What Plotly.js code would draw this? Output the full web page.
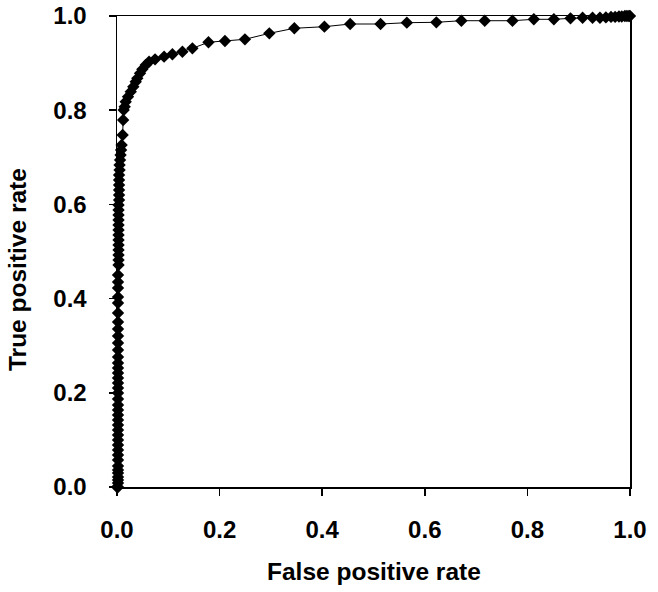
<!DOCTYPE html>
<html>
<head>
<meta charset="utf-8">
<script src="https://cdn.plot.ly/plotly-3.0.1.min.js"></script>
<style>html,body{margin:0;padding:0;background:#fff;}#chart{width:658px;height:592px;}</style>
</head>
<body>
<div id="chart"></div>
<script>
// False positive rate values (ROC curve)
const fpr = [
  0.000, 0.002, 0.002, 0.002, 0.002, 0.002, 0.002, 0.002, 0.002, 0.002,
  0.002, 0.002, 0.002, 0.002, 0.002, 0.002, 0.002, 0.002, 0.002, 0.002,
  0.002, 0.002, 0.002, 0.002, 0.002, 0.002, 0.002, 0.002, 0.002, 0.002,
  0.002, 0.002, 0.002, 0.002, 0.002, 0.002, 0.002, 0.002, 0.002, 0.002,
  0.003, 0.003, 0.003, 0.003, 0.003, 0.003, 0.003, 0.003, 0.003, 0.003,
  0.003, 0.003, 0.003, 0.004, 0.004, 0.004, 0.004, 0.004, 0.004, 0.005,
  0.005, 0.006, 0.007, 0.008, 0.009, 0.011, 0.012, 0.013,
  0.015, 0.017, 0.0215, 0.0268, 0.0318, 0.0365, 0.0396, 0.0449, 0.0494, 0.056,
  0.0625, 0.0742, 0.0918, 0.108, 0.1275, 0.147, 0.1783, 0.2104, 0.2494, 0.2969,
  0.3457, 0.4043, 0.4545, 0.5137, 0.565, 0.6225, 0.6713, 0.7168, 0.7709, 0.8125,
  0.8516, 0.884, 0.9076, 0.927, 0.9414, 0.953, 0.963, 0.971, 0.9785, 0.984,
  0.990, 0.994, 0.998, 1.000
];
// True positive rate values
const tpr = [
  0.000, 0.000, 0.0085, 0.0149, 0.0212, 0.0297, 0.0361, 0.0446, 0.0573, 0.0679,
  0.0786, 0.0892, 0.0998, 0.1104, 0.1210, 0.1316, 0.1423, 0.1529, 0.1635, 0.1741,
  0.1868, 0.1996, 0.2102, 0.2208, 0.2314, 0.2420, 0.2527, 0.2633, 0.2760, 0.2909,
  0.3057, 0.3206, 0.3355, 0.3503, 0.3694, 0.3907, 0.4034, 0.4225, 0.4352, 0.4501,
  0.4713, 0.4820, 0.4926, 0.5032, 0.5138, 0.5244, 0.5350, 0.5456, 0.5563, 0.5669,
  0.5775, 0.5881, 0.5987, 0.6093, 0.6200, 0.6306, 0.6412, 0.6518, 0.6624, 0.6730,
  0.6837, 0.6943, 0.7049, 0.7155, 0.7261, 0.7473, 0.7792, 0.8004,
  0.8074, 0.818, 0.8287, 0.8393, 0.8499, 0.8605, 0.8677, 0.8783, 0.8868, 0.896,
  0.903, 0.908, 0.9136, 0.9187, 0.9242, 0.9314, 0.9442, 0.9469, 0.9505, 0.9632,
  0.9739, 0.9773, 0.9830, 0.9830, 0.9858, 0.9866, 0.990, 0.990, 0.990, 0.993,
  0.993, 0.995, 0.9964, 0.9964, 0.9964, 0.997, 0.998, 0.998, 0.999, 0.999,
  1.000, 1.000, 1.000, 1.000
];
const tickVals = [0, 0.2, 0.4, 0.6, 0.8, 1.0];
const tickText = ["0.0", "0.2", "0.4", "0.6", "0.8", "1.0"];
const xTitle = 'False positive rate';
const yTitle = 'True positive rate';

const fontFam = 'Liberation Sans, Arial, sans-serif';
const axisCommon = {
  range: [0, 1],
  tickvals: tickVals,
  ticktext: tickText,
  ticks: 'outside',
  ticklen: 7,
  tickwidth: 1.5,
  tickcolor: '#000',
  showline: true,
  linecolor: '#000',
  linewidth: 1.5,
  mirror: true,
  showgrid: false,
  zeroline: false,
  automargin: false,
  tickfont: {family: fontFam, size: 24, color: '#000', weight: 'bold'},
  fixedrange: true
};

const trace = {
  x: fpr,
  y: tpr,
  type: 'scatter',
  mode: 'lines+markers',
  line: {color: '#000', width: 1},
  marker: {symbol: 'diamond', size: 9.5, color: '#000', line: {width: 0}},
  cliponaxis: false,
  hoverinfo: 'skip'
};

const titleFont = {family: fontFam, size: 24.5, color: '#000', weight: 'bold'};

const layout = {
  width: 658,
  height: 592,
  margin: {l: 117, r: 28, t: 16, b: 105},
  paper_bgcolor: '#fff',
  plot_bgcolor: '#fff',
  showlegend: false,
  xaxis: Object.assign({}, axisCommon, {ticklabelstandoff: 14}),
  yaxis: Object.assign({}, axisCommon, {ticklabelstandoff: 17}),
  annotations: [
    {text: xTitle, xref: 'paper', yref: 'paper', x: 0.5, y: 0, yshift: -84,
     xanchor: 'center', yanchor: 'middle', showarrow: false, font: titleFont},
    {text: yTitle, xref: 'paper', yref: 'paper', x: 0, xshift: -100, y: 0.4607,
     xanchor: 'center', yanchor: 'middle', textangle: -90, showarrow: false, font: titleFont}
  ]
};

Plotly.newPlot('chart', [trace], layout, {displayModeBar: false, staticPlot: true});
</script>
</body>
</html>
